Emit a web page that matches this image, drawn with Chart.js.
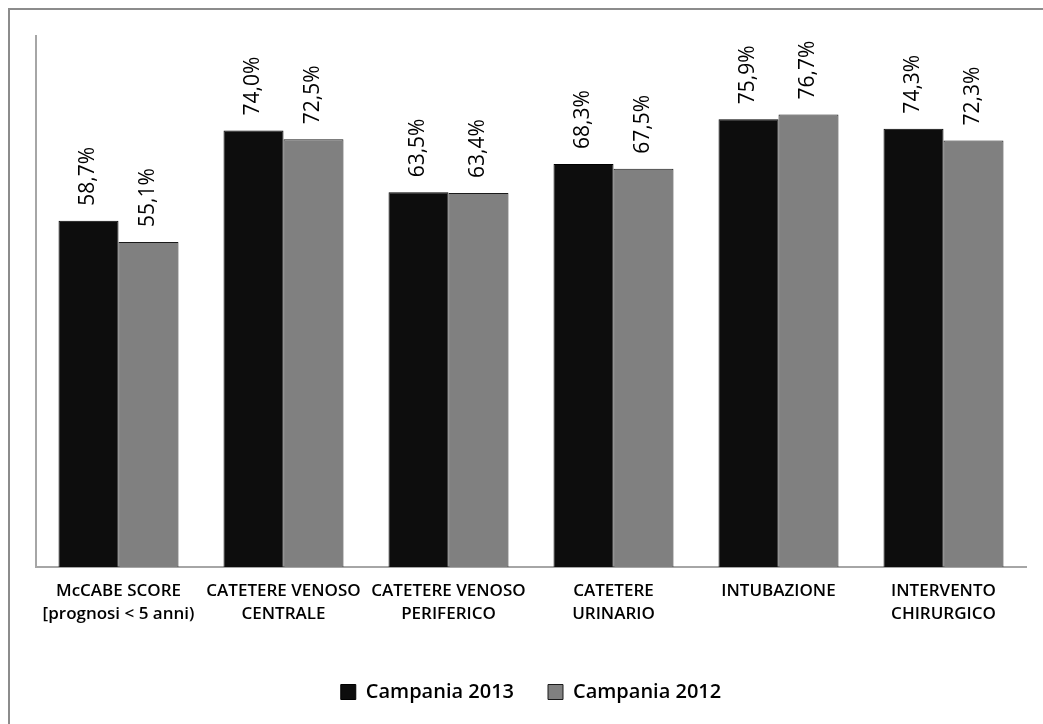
<!DOCTYPE html>
<html>
<head>
<meta charset="utf-8">
<script src="https://cdn.jsdelivr.net/npm/chart.js@4"></script>
<style>
  html,body{margin:0;padding:0;background:#fff;}
  #wrap{position:relative;width:1043px;height:724px;overflow:hidden;}
  #frame{position:absolute;left:8px;top:8px;width:1100px;height:800px;border-left:2px solid #8c8c8c;border-top:2px solid #8c8c8c;box-sizing:border-box;}
  canvas{position:absolute;left:0;top:0;}
</style>
</head>
<body>
<div id="wrap">
  <div id="frame"></div>
  <canvas id="c" width="1043" height="724"></canvas>
</div>
<script>
const categories = [
  ["McCABE SCORE", "[prognosi < 5 anni)"],
  ["CATETERE VENOSO", "CENTRALE"],
  ["CATETERE VENOSO", "PERIFERICO"],
  ["CATETERE", "URINARIO"],
  ["INTUBAZIONE"],
  ["INTERVENTO", "CHIRURGICO"]
];
const seriesNames = ["Campania 2013", "Campania 2012"];
const values2013 = [58.7, 74.0, 63.5, 68.3, 75.9, 74.3];
const values2012 = [55.1, 72.5, 63.4, 67.5, 76.7, 72.3];

const FONT = "'Open Sans', 'Noto Sans', sans-serif";

const labelPlugin = {
  id: 'vlabels',
  afterDatasetsDraw(chart) {
    const ctx = chart.ctx;
    ctx.save();
    ctx.fillStyle = '#000';
    ctx.font = "500 21px " + FONT;
    ctx.textAlign = 'left';
    ctx.textBaseline = 'middle';
    chart.data.datasets.forEach((ds, di) => {
      chart.getDatasetMeta(di).data.forEach((bar, i) => {
        const txt = ds.data[i].toFixed(1).replace('.', ',') + '%';
        ctx.save();
        ctx.translate(bar.x, bar.y - 15);
        ctx.rotate(-Math.PI / 2);
        ctx.fillText(txt, 0, 0);
        ctx.restore();
      });
    });
    ctx.restore();
  }
};

new Chart(document.getElementById('c'), {
  type: 'bar',
  data: {
    labels: categories,
    datasets: [
      { label: seriesNames[0], data: values2013, backgroundColor: '#0d0d0d', borderColor: '#000', borderWidth: 1 },
      { label: seriesNames[1], data: values2012, backgroundColor: '#808080', borderColor: '#1a1a1a', borderWidth: 1 }
    ]
  },
  options: {
    responsive: false,
    animation: false,
    events: [],
    layout: { padding: { left: 36, right: 17, top: 36, bottom: 12 } },
    datasets: { bar: { barPercentage: 1.0, categoryPercentage: 0.727 } },
    plugins: {
      legend: {
        position: 'bottom',
        labels: {
          font: { family: FONT, size: 20, weight: '600' },
          color: '#000',
          boxWidth: 15,
          boxHeight: 15,
          padding: 34
        }
      },
      tooltip: { enabled: false }
    },
    scales: {
      x: {
        grid: { display: false },
        border: { display: true, color: '#a6a6a6', width: 2 },
        ticks: { color: '#000', font: { family: FONT, size: 17, weight: '600', lineHeight: 1.35 }, padding: 5, maxRotation: 0, autoSkip: false },
        afterFit(s) { s.height = 81; }
      },
      y: {
        min: 0, max: 90,
        grid: { display: false },
        border: { display: true, color: '#a6a6a6', width: 2 },
        ticks: { display: false },
        afterFit(s) { s.width = 0; }
      }
    }
  },
  plugins: [labelPlugin]
});
</script>
</body>
</html>
